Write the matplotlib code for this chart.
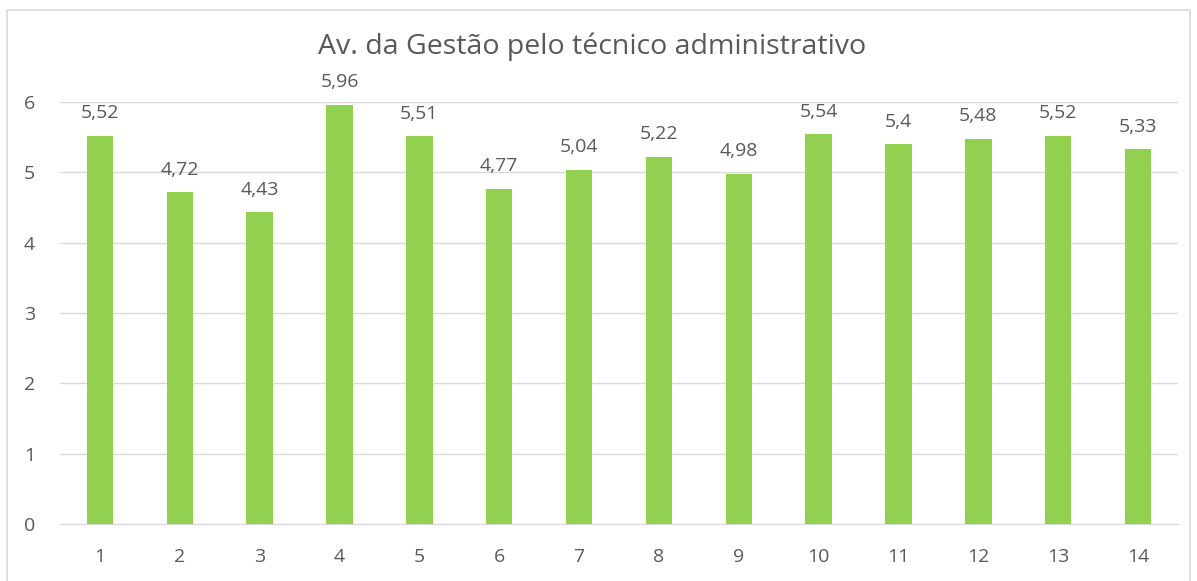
import matplotlib
matplotlib.use("Agg")
import matplotlib.pyplot as plt
from matplotlib.patches import Rectangle

categories = [str(i) for i in range(1, 15)]
values = [5.52, 4.72, 4.43, 5.96, 5.51, 4.77, 5.04, 5.22, 4.98, 5.54, 5.4, 5.48, 5.52, 5.33]
labels = ["5,52", "4,72", "4,43", "5,96", "5,51", "4,77", "5,04", "5,22", "4,98", "5,54", "5,4", "5,48", "5,52", "5,33"]
title = "Av. da Gestão pelo técnico administrativo"

plt.rcParams['font.family'] = ['Open Sans', 'DejaVu Sans']
txt = '#595959'

fig = plt.figure(figsize=(11.97, 5.81), dpi=100)
fig.patches.append(Rectangle((7/1197, -0.01), (1190-7)/1197, 1 - 10/581 + 0.01,
                             transform=fig.transFigure, fill=False,
                             edgecolor='#D9D9D9', linewidth=1.2))
ax = fig.add_axes([60/1197, 1 - 524/581, (1178-60)/1197, (524-102)/581])
x = list(range(len(categories)))
ax.bar(x, values, width=0.33, color='#92D050', zorder=3)
for xi, v, lab in zip(x, values, labels):
    ax.text(xi, v + 0.19, lab, ha='center', va='bottom', fontsize=14, color=txt)
ax.set_xlim(-0.5, len(categories) - 0.5)
ax.set_ylim(0, 6)
ax.set_yticks(range(0, 7))
ax.set_xticks(x)
ax.set_xticklabels(categories)
ax.grid(axis='y', color='#D9D9D9', linewidth=1, zorder=0)
for s in ['top', 'right', 'left']:
    ax.spines[s].set_visible(False)
ax.spines['bottom'].set_color('#D9D9D9')
ax.tick_params(axis='both', length=0, labelsize=14, colors=txt)
ax.tick_params(axis='y', pad=18)
ax.tick_params(axis='x', pad=17)
fig.text(592/1197, 1 - 47/581, title, ha='center', va='center', fontsize=20.5, color=txt)
fig.savefig('out.png', dpi=100)
